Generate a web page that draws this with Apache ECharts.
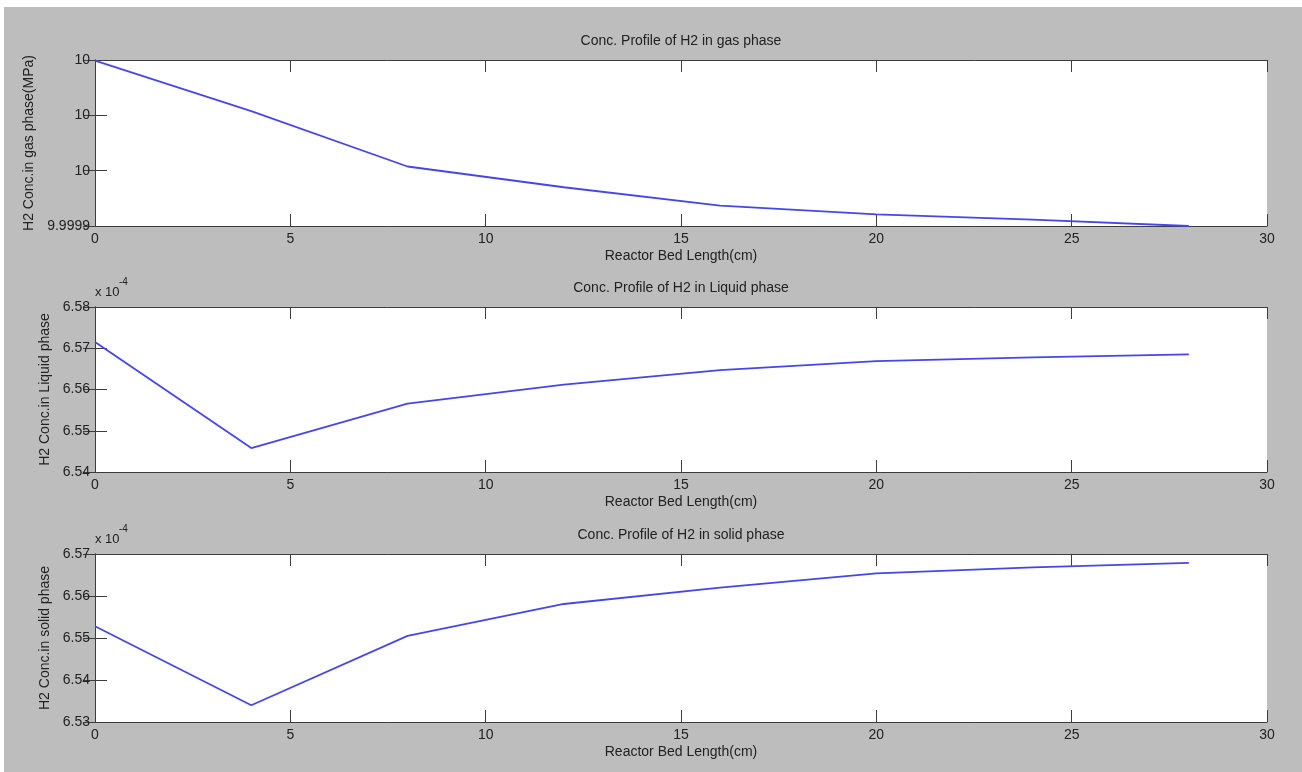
<!DOCTYPE html>
<html>
<head>
<meta charset="utf-8">
<title>H2 concentration profiles</title>
<script src="https://cdn.jsdelivr.net/npm/echarts@6/dist/echarts.min.js"></script>
<style>
  html, body { margin: 0; padding: 0; background: #ffffff; }
  #frame { position: absolute; left: 4px; top: 7px; right: 0; bottom: 0; background: #bdbdbd; }
  #chart { position: absolute; left: 0; top: 0; width: 1302px; height: 772px; }
</style>
</head>
<body>
<div id="frame"></div>
<div id="chart"></div>
<script>
// Axial positions along the reactor bed (cm)
const bedLength = [0, 4, 8, 12, 16, 20, 24, 28];

// H2 concentration in the gas phase (MPa)
const gasConc = [9.9999998, 9.9999815, 9.9999615, 9.9999540, 9.9999474, 9.9999442, 9.9999423, 9.9999400];

// H2 concentration in the liquid phase (x 10^-4)
const liquidConc = [6.5715, 6.5458, 6.5566, 6.5612, 6.5647, 6.5669, 6.5678, 6.5685];

// H2 concentration in the solid phase (x 10^-4)
const solidConc = [6.5528, 6.5340, 6.5505, 6.5581, 6.5620, 6.5654, 6.5668, 6.5679];

// Axis ranges
const xRange = { min: 0, max: 30, interval: 5 };
const gasRange = { min: 9.99994, max: 10, interval: 0.00002 };
const liquidRange = { min: 6.54, max: 6.58, interval: 0.01 };
const solidRange = { min: 6.53, max: 6.57, interval: 0.01 };

const titles = [
  'Conc. Profile of H2 in gas phase',
  'Conc. Profile of H2 in Liquid phase',
  'Conc. Profile of H2 in solid phase'
];
const yNames = [
  'H2 Conc.in gas phase(MPa)',
  'H2 Conc.in Liquid phase',
  'H2 Conc.in solid phase'
];
const xName = 'Reactor Bed Length(cm)';

const FONT = '"Liberation Sans", Arial, Helvetica, sans-serif';
const TEXT = '#222222';
const EDGE = '#3c3c3c';
const LINE = '#4646e8';

const panels = [
  { top: 60,  height: 166, data: gasConc,    range: gasRange,
    fmt: v => String(parseFloat(Number(v).toPrecision(5))), nameGap: 52, exp: false },
  { top: 307, height: 165, data: liquidConc, range: liquidRange,
    fmt: v => Number(v).toFixed(2), nameGap: 40, exp: true },
  { top: 554, height: 168, data: solidConc,  range: solidRange,
    fmt: v => Number(v).toFixed(2), nameGap: 40, exp: true }
];

const LEFT = 95, WIDTH = 1172;
const grid = [], xAxis = [], yAxis = [], series = [], title = [], graphic = [];

panels.forEach((p, i) => {
  grid.push({ left: LEFT, top: p.top, width: WIDTH, height: p.height,
              show: true, backgroundColor: '#ffffff', borderWidth: 0 });

  const tick = { show: true, inside: true, length: 12, lineStyle: { color: EDGE, width: 1 } };
  const axLine = { show: true, lineStyle: { color: EDGE, width: 1 } };

  // bottom axis with labels
  xAxis.push({
    type: 'value', gridIndex: i, position: 'bottom',
    min: xRange.min, max: xRange.max, interval: xRange.interval,
    axisLine: axLine, axisTick: tick, splitLine: { show: false },
    axisLabel: { color: TEXT, fontFamily: FONT, fontSize: 14, margin: 6,
                 showMinLabel: true, showMaxLabel: true },
    name: xName, nameLocation: 'middle', nameGap: 23,
    nameTextStyle: { color: TEXT, fontFamily: FONT, fontSize: 14 }
  });
  // top axis (box edge with ticks)
  xAxis.push({
    type: 'value', gridIndex: i, position: 'top',
    min: xRange.min, max: xRange.max, interval: xRange.interval,
    axisLine: axLine, axisTick: tick, axisLabel: { show: false }, splitLine: { show: false }
  });
  // left axis with labels
  yAxis.push({
    type: 'value', gridIndex: i, position: 'left',
    min: p.range.min, max: p.range.max, interval: p.range.interval,
    axisLine: axLine, axisTick: tick, splitLine: { show: false },
    axisLabel: { color: TEXT, fontFamily: FONT, fontSize: 14, margin: 5,
                 showMinLabel: true, showMaxLabel: true, formatter: p.fmt },
    name: yNames[i], nameLocation: 'middle', nameGap: p.nameGap,
    nameTextStyle: { color: TEXT, fontFamily: FONT, fontSize: 14 }
  });
  // right axis (box edge with ticks)
  yAxis.push({
    type: 'value', gridIndex: i, position: 'right',
    min: p.range.min, max: p.range.max, interval: p.range.interval,
    axisLine: axLine, axisTick: tick, axisLabel: { show: false }, splitLine: { show: false }
  });

  series.push({
    type: 'line', xAxisIndex: 2 * i, yAxisIndex: 2 * i,
    data: bedLength.map((x, k) => [x, p.data[k]]),
    showSymbol: false, smooth: false,
    lineStyle: { color: LINE, width: 1.8 },
    animation: false
  });

  title.push({
    text: titles[i], left: LEFT + WIDTH / 2, top: p.top - 26, textAlign: 'center', padding: 0,
    textStyle: { color: TEXT, fontFamily: FONT, fontSize: 14, fontWeight: 'normal' }
  });

  if (p.exp) {
    graphic.push({
      type: 'text', left: LEFT, top: p.top - 21,
      style: { text: 'x 10', fill: TEXT, font: '13px ' + FONT }
    });
    graphic.push({
      type: 'text', left: LEFT + 24, top: p.top - 30,
      style: { text: '-4', fill: TEXT, font: '10px ' + FONT }
    });
  }
});

const chart = echarts.init(document.getElementById('chart'), null, { renderer: 'canvas' });
chart.setOption({
  backgroundColor: 'transparent',
  animation: false,
  title, grid, xAxis, yAxis, series, graphic
});
</script>
</body>
</html>
